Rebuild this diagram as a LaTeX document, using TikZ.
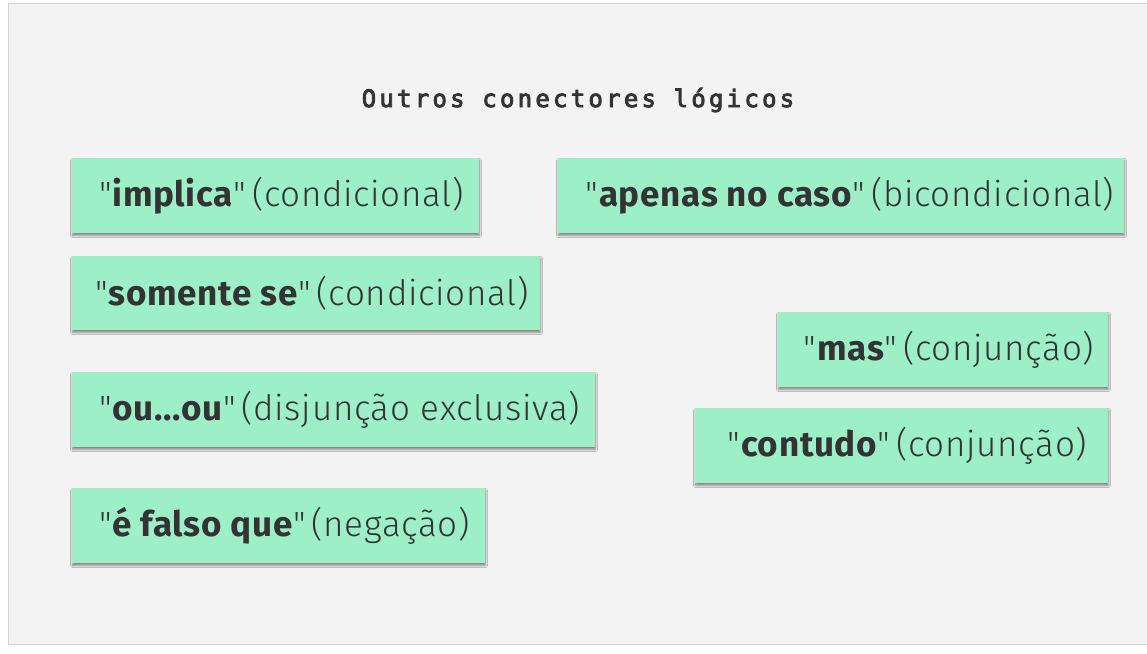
\documentclass[tikz,border=0pt]{standalone}
\usepackage{fontspec}
\setmainfont[LetterSpace=2]{Fira Sans}
\newfontfamily\lightfont[LetterSpace=2]{Fira Sans Light}
\newfontfamily\monofont[LetterSpace=13.5,FakeBold=3.5]{DejaVu Sans Mono}
\usetikzlibrary{shadows.blur}
\definecolor{bgcol}{HTML}{F3F3F3}
\definecolor{framecol}{HTML}{D4D4D4}
\definecolor{boxcol}{HTML}{9CEFC6}
\definecolor{txtcol}{HTML}{333333}
\tikzset{
  conbox/.style={fill=boxcol, draw=none, inner sep=0pt, minimum height=75pt,
    text=txtcol, font=\fontsize{35}{40}\selectfont,
    blur shadow={shadow xshift=0.5pt, shadow yshift=-2.5pt, shadow blur radius=2pt,
      shadow blur steps=6, shadow opacity=45}},
  titlestyle/.style={text=txtcol, font=\monofont\fontsize{24}{28}\selectfont}
}
\newcommand{\conn}[2]{\hspace*{12pt}{\lightfont"}\textbf{#1}{\lightfont"\,(#2)}}
\begin{document}
\begin{tikzpicture}[x=1pt,y=-1pt]
\useasboundingbox (0,0) rectangle (1147,653);
\fill[white] (0,0) rectangle (1147,653);
\draw[fill=bgcol, draw=framecol, line width=1pt] (8.5,3.5) rectangle (1152,644.5);
\node[titlestyle] (title) at (578,100) {Outros conectores lógicos};
\node[conbox, minimum width=407pt] (implica) at (275.5,195.5) {\conn{implica}{condicional}};
\node[conbox, minimum width=566pt] (apenas) at (841,195.5) {\hspace*{6pt}\conn{apenas no caso}{bicondicional}};
\node[conbox, minimum width=468pt, minimum height=74pt] (somente) at (306,293) {\conn{somente se}{condicional}};
\node[conbox, minimum width=330pt] (mas) at (943,349.5) {\conn{mas}{conjunção}};
\node[conbox, minimum width=523pt] (ou) at (333.5,409.5) {\conn{ou...ou}{disjunção exclusiva}};
\node[conbox, minimum width=413pt] (contudo) at (901.5,445.5) {\conn{contudo}{conjunção}};
\node[conbox, minimum width=413pt] (falso) at (278.5,525.5) {\conn{é falso que}{negação}};
\end{tikzpicture}
\end{document}
